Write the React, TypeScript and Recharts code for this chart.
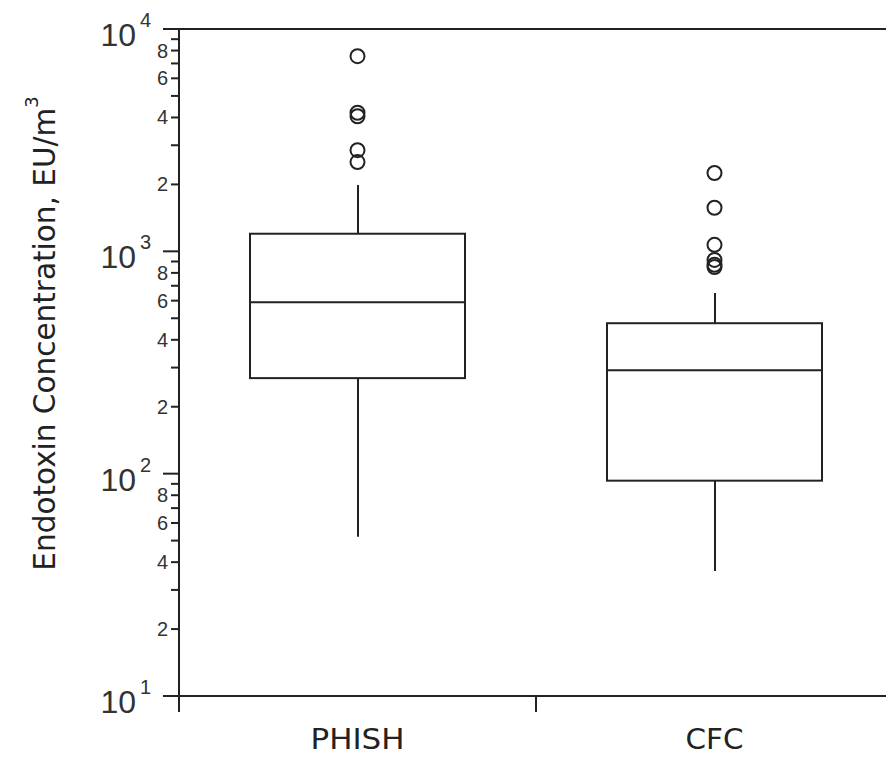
import { ComposedChart, Bar, Scatter, XAxis, YAxis, ReferenceLine } from "recharts";

const categories = ["PHISH", "CFC"];
const whiskerLow = [52, 36.5];
const q1 = [269, 93];
const median = [590, 292];
const q3 = [1200, 475];
const whiskerHigh = [1990, 650];
const phishOutliers = [7550, 4200, 4050, 2850, 2520];
const cfcOutliers = [2250, 1570, 1070, 915, 870, 850];

const yTicks = [
  10, 20, 30, 40, 50, 60, 70, 80, 90,
  100, 200, 300, 400, 500, 600, 700, 800, 900,
  1000, 2000, 3000, 4000, 5000, 6000, 7000, 8000, 9000,
  10000,
];
const labeledMinor = [2, 4, 6, 8];

const INK = "#222";
const TICK_FONT = "'Liberation Sans', Arial, sans-serif";
const TEXT_FONT = "'DejaVu Sans', Verdana, sans-serif";
const BOX_W = 215;

const boxData = categories.map((name, i) => ({
  name,
  box: [q1[i], q3[i]],
  whisker: [whiskerLow[i], whiskerHigh[i]],
  median: median[i],
}));

const outlierData = [
  ...phishOutliers.map((v) => ({ name: "PHISH", v })),
  ...cfcOutliers.map((v) => ({ name: "CFC", v })),
];

function BoxShape(p: any) {
  const y = Math.min(p.y, p.y + p.height);
  const h = Math.abs(p.height);
  return <rect x={p.x} y={y} width={p.width} height={h} fill="#fff" stroke={INK} strokeWidth={2} />;
}

function WhiskerShape(p: any) {
  const cx = p.x + p.width / 2;
  return <line x1={cx} x2={cx} y1={p.y} y2={p.y + p.height} stroke={INK} strokeWidth={2} />;
}

function MedianShape(p: any) {
  if (p.cx == null || p.cy == null) return null;
  return <line x1={p.cx - BOX_W / 2} x2={p.cx + BOX_W / 2} y1={p.cy} y2={p.cy} stroke={INK} strokeWidth={2} />;
}

function OutlierShape(p: any) {
  if (p.cx == null || p.cy == null) return null;
  return <circle cx={p.cx} cy={p.cy} r={7} fill="none" stroke={INK} strokeWidth={2} />;
}

function YTick({ x, y, payload }: any) {
  const v = payload.value;
  const exp = Math.floor(Math.log10(v) + 1e-9);
  const m = Math.round(v / Math.pow(10, exp));
  if (m === 1) {
    return (
      <g>
        <line x1={x - 16} x2={x} y1={y} y2={y} stroke={INK} strokeWidth={2} />
        <text x={x - 43} y={y + 17} textAnchor="end" fontSize={32} fill="#333" fontFamily={TICK_FONT}>
          10
        </text>
        <text x={x - 39} y={y - 2} textAnchor="start" fontSize={20} fill="#333" fontFamily={TICK_FONT}>
          {exp}
        </text>
      </g>
    );
  }
  return (
    <g>
      <line x1={x - 8} x2={x} y1={y} y2={y} stroke={INK} strokeWidth={2} />
      {labeledMinor.includes(m) && (
        <text x={x - 11} y={y + 7} textAnchor="end" fontSize={20} fill="#333" fontFamily={TICK_FONT}>
          {m}
        </text>
      )}
    </g>
  );
}

function XTick({ x, y, payload, index }: any) {
  const half = payload.offset || 0;
  const label = String(payload.value);
  return (
    <g>
      <line x1={x - half} x2={x - half} y1={y} y2={y + 16} stroke={INK} strokeWidth={2} />
      {index === categories.length - 1 && (
        <line x1={x + half} x2={x + half} y1={y} y2={y + 16} stroke={INK} strokeWidth={2} />
      )}
      <text
        x={x}
        y={y + 53}
        textAnchor="middle"
        fontSize={29}
        fill="#222"
        fontFamily={TEXT_FONT}
        textLength={label.length === 5 ? 94 : 58}
        lengthAdjust="spacingAndGlyphs"
      >
        {label}
      </text>
    </g>
  );
}

function YTitle({ viewBox }: any) {
  const cx = 45;
  const cy = viewBox.y + viewBox.height / 2 - 29;
  return (
    <text
      x={cx}
      y={cy}
      transform={`rotate(-90, ${cx}, ${cy})`}
      textAnchor="middle"
      dominantBaseline="central"
      fontSize={29.5}
      fill="#222"
      fontFamily={TEXT_FONT}
    >
      Endotoxin Concentration, EU/m
      <tspan dy={-14} fontSize={18}>3</tspan>
    </text>
  );
}

export default function App() {
  return (
    <div style={{ width: 886, height: 758, overflow: "hidden" }}>
      <style>{"body{margin:0;overflow:hidden}"}</style>
      <ComposedChart
        width={908}
        height={758}
        data={boxData}
        margin={{ top: 29, right: 15, bottom: 0, left: 8 }}
      >
        <XAxis
          dataKey="name"
          type="category"
          allowDuplicatedCategory={false}
          interval={0}
          height={62}
          tickSize={0}
          tickMargin={0}
          tickLine={false}
          axisLine={{ stroke: INK, strokeWidth: 2 }}
          tick={<XTick />}
        />
        <XAxis xAxisId="w" dataKey="name" type="category" allowDuplicatedCategory={false} hide />
        <YAxis
          type="number"
          scale="log"
          domain={[10, 10000]}
          ticks={yTicks}
          interval={0}
          allowDataOverflow
          width={171}
          tickSize={0}
          tickMargin={0}
          tickLine={false}
          axisLine={{ stroke: INK, strokeWidth: 2 }}
          tick={<YTick />}
          label={<YTitle />}
        />
        <ReferenceLine y={10000} stroke={INK} strokeWidth={2} />
        <Bar xAxisId="w" dataKey="whisker" barSize={2} shape={<WhiskerShape />} isAnimationActive={false} />
        <Bar dataKey="box" barSize={BOX_W} shape={<BoxShape />} isAnimationActive={false} />
        <Scatter dataKey="median" shape={<MedianShape />} isAnimationActive={false} />
        <Scatter data={outlierData} dataKey="v" shape={<OutlierShape />} isAnimationActive={false} />
      </ComposedChart>
    </div>
  );
}
